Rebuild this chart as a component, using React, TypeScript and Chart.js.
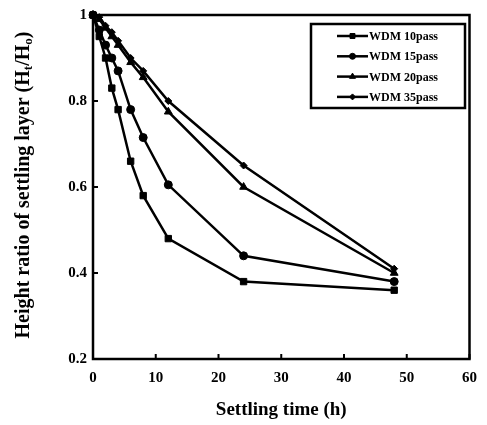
import { useEffect, useRef } from 'react';
import { Chart, registerables } from 'chart.js';
import { drawPoint } from 'chart.js/helpers';
Chart.register(...registerables);

const times = [0, 1, 2, 3, 4, 6, 8, 12, 24, 48];
const seriesNames = ['WDM 10pass', 'WDM 15pass', 'WDM 20pass', 'WDM 35pass'];
const wdm10 = [1, 0.95, 0.9, 0.83, 0.78, 0.66, 0.58, 0.48, 0.38, 0.36];
const wdm15 = [1, 0.965, 0.93, 0.9, 0.87, 0.78, 0.715, 0.605, 0.44, 0.38];
const wdm20 = [1, 0.99, 0.97, 0.95, 0.93, 0.89, 0.855, 0.775, 0.6, 0.4];
const wdm35 = [1, 0.995, 0.975, 0.96, 0.94, 0.9, 0.87, 0.8, 0.65, 0.41];
const pointStyles = ['rect', 'circle', 'triangle', 'rectRot'];
const pointRadii = [4.5, 4, 4.5, 3.5];
const legendRadii = [3.5, 3, 3.5, 3];
const xTitle = 'Settling time (h)';
const yTitleParts = ['Height ratio of settling layer (H', 't', '/H', 'o', ')'];

const FONT = "'Liberation Serif', 'Times New Roman', serif";

const decorPlugin = {
  id: 'decor',
  afterDraw(chart: any) {
    const ctx = chart.ctx as CanvasRenderingContext2D;
    const { left, right, top, bottom } = chart.chartArea;
    const xs = chart.scales.x;
    const ys = chart.scales.y;
    ctx.save();
    ctx.strokeStyle = '#000';
    ctx.lineWidth = 2.5;
    ctx.strokeRect(left, top, right - left, bottom - top);
    ctx.lineWidth = 2;
    ctx.beginPath();
    ys.ticks.forEach((t: any) => {
      const y = ys.getPixelForValue(t.value);
      ctx.moveTo(left, y);
      ctx.lineTo(left + 5, y);
    });
    xs.ticks.forEach((t: any) => {
      const x = xs.getPixelForValue(t.value);
      ctx.moveTo(x, bottom);
      ctx.lineTo(x, bottom - 5);
    });
    ctx.stroke();

    // legend
    const lx = 311, ly = 24, lw = 154, lh = 84;
    ctx.lineWidth = 2.5;
    ctx.strokeRect(lx, ly, lw, lh);
    ctx.font = `bold 12px ${FONT}`;
    ctx.fillStyle = '#000';
    ctx.textBaseline = 'middle';
    ctx.textAlign = 'left';
    chart.data.datasets.forEach((ds: any, i: number) => {
      const y = 36 + i * 20.3;
      ctx.lineWidth = 2.5;
      ctx.beginPath();
      ctx.moveTo(337, y);
      ctx.lineTo(368, y);
      ctx.stroke();
      ctx.lineWidth = 1;
      drawPoint(ctx, { pointStyle: pointStyles[i] as any, radius: legendRadii[i], rotation: 0, borderWidth: 1 } as any, 352.5, y);
      ctx.fillStyle = '#000';
      ctx.font = `bold 12px ${FONT}`;
      ctx.textBaseline = 'middle';
      ctx.textAlign = 'left';
      ctx.fillText(ds.label, 369, y + 1);
    });

    // x title
    ctx.font = `bold 19px ${FONT}`;
    ctx.textAlign = 'center';
    ctx.textBaseline = 'middle';
    ctx.fillText(xTitle, (left + right) / 2, 410);

    // y title with subscripts
    const big = `bold 20px ${FONT}`;
    const small = `bold 13px ${FONT}`;
    const widths = yTitleParts.map((p, i) => {
      ctx.font = i % 2 === 1 ? small : big;
      return ctx.measureText(p).width;
    });
    const total = widths.reduce((a, b) => a + b, 0);
    ctx.translate(22, 185);
    ctx.rotate(-Math.PI / 2);
    ctx.textAlign = 'left';
    ctx.textBaseline = 'alphabetic';
    let pos = -total / 2;
    yTitleParts.forEach((p, i) => {
      const sub = i % 2 === 1;
      ctx.font = sub ? small : big;
      ctx.fillText(p, pos, sub ? 10 : 7);
      pos += widths[i];
    });
    ctx.restore();
  },
};

export default function App() {
  const ref = useRef<HTMLCanvasElement>(null);
  useEffect(() => {
    document.body.style.margin = '0';
    const series = [wdm10, wdm15, wdm20, wdm35];
    const chart = new Chart(ref.current!, {
      type: 'line',
      data: {
        datasets: series.map((vals, i) => ({
          label: seriesNames[i],
          data: times.map((t, j) => ({ x: t, y: vals[j] })),
          borderColor: '#000',
          backgroundColor: '#000',
          borderWidth: 2.5,
          pointStyle: pointStyles[i] as any,
          pointRadius: pointRadii[i],
          pointBackgroundColor: '#000',
          pointBorderColor: '#000',
          pointBorderWidth: 1,
          tension: 0,
          clip: false as any,
        })),
      },
      options: {
        animation: false,
        responsive: true,
        maintainAspectRatio: false,
        layout: { padding: { left: 0, top: 13, right: 10, bottom: 0 } },
        plugins: { legend: { display: false }, tooltip: { enabled: false } },
        scales: {
          x: {
            type: 'linear',
            min: 0,
            max: 60,
            ticks: { stepSize: 10, color: '#000', font: { family: FONT, size: 15, weight: 'bold' }, padding: 10, maxRotation: 0 },
            grid: { display: false, drawTicks: false, tickLength: 0 },
            border: { display: false },
            afterFit: (s: any) => { s.height = 66; },
          },
          y: {
            type: 'linear',
            min: 0.2,
            max: 1,
            ticks: {
              stepSize: 0.2,
              color: '#000',
              font: { family: FONT, size: 15, weight: 'bold' },
              padding: 6,
              callback: (v: any) => String(Math.round(Number(v) * 10) / 10),
            },
            grid: { display: false, drawTicks: false, tickLength: 0 },
            border: { display: false },
            afterFit: (s: any) => { s.width = 93; },
          },
        },
      },
      plugins: [decorPlugin],
    });
    return () => chart.destroy();
  }, []);
  return (
    <div style={{ width: 487, height: 425, position: 'relative', background: '#fff' }}>
      <canvas ref={ref} />
    </div>
  );
}
